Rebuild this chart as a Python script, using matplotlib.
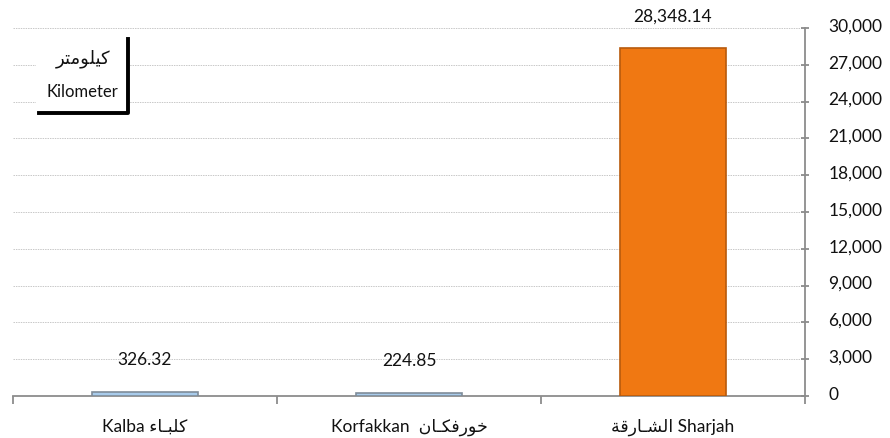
import matplotlib
matplotlib.use("Agg")
import matplotlib.pyplot as plt
import matplotlib.transforms as mtransforms
from matplotlib.patches import Rectangle
from matplotlib.lines import Line2D
from matplotlib.ticker import FuncFormatter

plt.rcParams['font.family'] = ['Lato', 'DejaVu Sans']

# Arabic written in presentation forms, visual (left-to-right) order,
# since matplotlib does no shaping / bidi
AR_KALBA = '\uFE80\uFE8E\u0640\uFE92\uFEE0\uFEDB'
AR_KHORFAKKAN = '\uFEE5\uFE8E\u0640\uFEDC\uFED3\uFEAD\uFEEE\uFEA7'
AR_SHARJAH = '\uFE94\uFED7\uFEAD\uFE8E\u0640\uFEB8\uFEDF\uFE8D'
AR_KM = '\uFEAE\uFE98\uFEE3\uFEEE\uFEE0\uFEF4\uFEDB'

categories = ['Kalba ' + AR_KALBA, 'Korfakkan  ' + AR_KHORFAKKAN, AR_SHARJAH + ' Sharjah']
values = [326.32, 224.85, 28348.14]
value_labels = ['326.32', '224.85', '28,348.14']
bar_colors = ['#A8CBEB', '#A8CBEB', '#F07812']
edge_colors = ['#7F8C99', '#7F8C99', '#B85A0C']

W, H = 890, 438
fig = plt.figure(figsize=(W / 100, H / 100), dpi=100)
ax = fig.add_axes([13 / W, 1 - 396 / H, (805 - 13) / W, (396 - 28) / H])

x = list(range(len(categories)))
ax.bar(x, values, width=0.4, color=bar_colors, edgecolor=edge_colors, linewidth=1.2, zorder=3)

for xi, v, lab in zip(x, values, value_labels):
    ax.annotate(lab, (xi, v), xytext=(0, 23), textcoords='offset points',
                ha='center', va='center', fontsize=12.5, color='#111111', zorder=4)

ax.set_xlim(-0.5, 2.5)
ax.set_ylim(0, 30000)
ax.set_yticks(range(0, 30001, 3000))
ax.yaxis.set_major_formatter(FuncFormatter(lambda v, p: f'{int(v):,}'))
ax.yaxis.tick_right()
ax.grid(axis='y', linestyle=(0, (1.5, 1)), color='#C8C8C8', linewidth=0.7, zorder=0)

ax.set_xticks(x)
ax.set_xticklabels(categories)
ax.set_xticks([-0.5, 0.5, 1.5, 2.5], minor=True)
ax.tick_params(axis='x', which='major', length=0, pad=16, labelsize=12.5, labelcolor='#111111')
ax.tick_params(axis='x', which='minor', length=6, width=1.3, color='#8C8C8C')
ax.tick_params(axis='y', length=6, width=1.3, color='#8C8C8C', direction='inout',
               labelsize=12.5, labelcolor='#111111', pad=14)

# y labels sit a little above their ticks in the original
shift = mtransforms.ScaledTranslation(0, 3 / 100, fig.dpi_scale_trans)
for lbl in ax.get_yticklabels():
    lbl.set_transform(lbl.get_transform() + shift)

for s in ['top', 'left']:
    ax.spines[s].set_visible(False)
for s in ['bottom', 'right']:
    ax.spines[s].set_color('#8C8C8C')
    ax.spines[s].set_linewidth(1.3)

# unit box with shadow, upper left
def fx(px):
    return px / W

def fy(py):
    return 1 - py / H

fig.patches.append(Rectangle((fx(36), fy(113)), fx(128) - fx(36), fy(36) - fy(113),
                             transform=fig.transFigure, facecolor='white', edgecolor='none', zorder=5))
fig.lines.append(Line2D([fx(39), fx(128), fx(128)], [fy(113), fy(113), fy(39)],
                        transform=fig.transFigure, color='black', linewidth=2.8, zorder=6))
fig.text(fx(83), fy(59), AR_KM, ha='center', va='center', fontsize=13, color='#111111', zorder=7)
fig.text(fx(82), fy(92), 'Kilometer', ha='center', va='center', fontsize=12, color='#111111', zorder=7)

fig.savefig('out.png', dpi=100)
